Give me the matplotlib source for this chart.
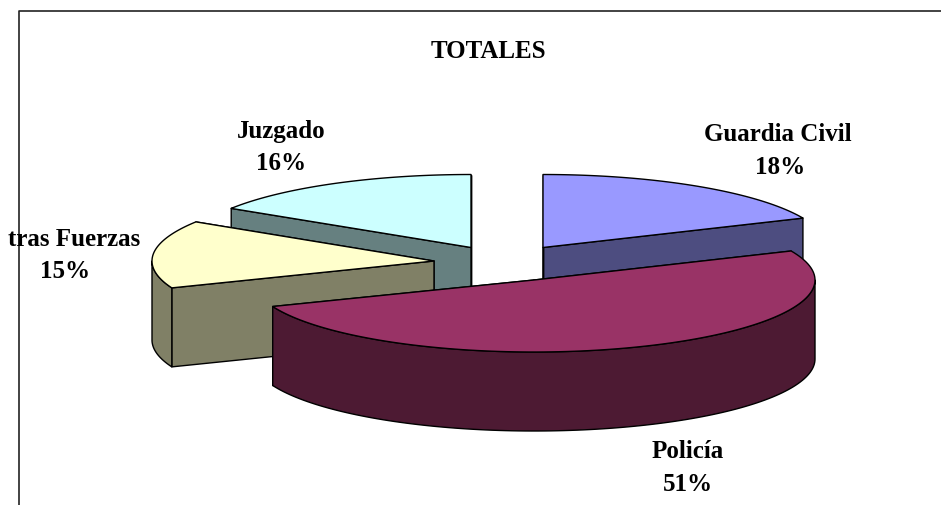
"""Tarta 3D con sectores separados, dibujada a mano con poligonos."""

import matplotlib

matplotlib.use("Agg")
import matplotlib.pyplot as plt  # noqa: E402
import numpy as np  # noqa: E402
from matplotlib.patches import Polygon  # noqa: E402

categories = ["Guardia Civil", "Policía", "Otras Fuerzas", "Juzgado"]
values = [18.4, 50.6, 15, 16]
pct_labels = ["18%", "51%", "15%", "16%"]
title = "TOTALES"

top_colors = ["#9999FF", "#993366", "#FFFFCC", "#CCFFFF"]
side_colors = ["#4D4D80", "#4D1A33", "#808066", "#668080"]

# vertice de cada sector en pixeles (sectores separados)
apex = [(543, 248.5), (534, 281), (434, 262), (471, 248.5)]
radius_x = [284, 281, 282, 284]
radius_y = [73, 72, 73, 73]
DEPTH = 79
DRAW_ORDER = [3, 0, 2, 1]

plt.rcParams["font.family"] = ["Liberation Serif", "DejaVu Serif"]


def ring(i, t0, t1, dy=0):
    # arco eliptico, angulo desde arriba en sentido horario
    cx, cy = apex[i]
    t = np.radians(np.linspace(t0, t1, 120))
    return np.column_stack([cx + radius_x[i] * np.sin(t),
                            cy - radius_y[i] * np.cos(t) + dy])


def draw_wedge(ax, i, t0, t1):
    cx, cy = apex[i]
    kw = dict(edgecolor="black", lw=1.0, joinstyle="round")
    # caras de corte
    for t in (t1, t0):
        p = ring(i, t, t)[0]
        face = [(cx, cy), p, (p[0], p[1] + DEPTH), (cx, cy + DEPTH)]
        ax.add_patch(Polygon(face, facecolor=side_colors[i], **kw))
    # pared exterior, solo la parte frontal
    a, b = max(t0, 90), min(t1, 270)
    if b > a:
        upper = ring(i, a, b)
        lower = ring(i, a, b, DEPTH)[::-1]
        ax.add_patch(Polygon(np.vstack([upper, lower]),
                             facecolor=side_colors[i], **kw))
    top = np.vstack([[(cx, cy)], ring(i, t0, t1)])
    ax.add_patch(Polygon(top, facecolor=top_colors[i], **kw))


fig = plt.figure(figsize=(9.41, 5.06), dpi=100)
ax = fig.add_axes([0, 0, 1, 1])
ax.set_xlim(0, 941)
ax.set_ylim(506, 0)
ax.axis("off")

# marco del grafico: solo izquierda y arriba llegan a verse
ax.plot([19, 19, 941], [506, 12, 12], color="#222222", lw=1.2)

edges = np.concatenate([[0], np.cumsum(values)]) / np.sum(values) * 360
for i in DRAW_ORDER:
    draw_wedge(ax, i, edges[i], edges[i + 1])

txt = dict(ha="center", va="center", fontsize=18, fontweight="bold",
           color="black")
ax.text(488, 51, title, **txt)
names = ["Guardia Civil", "Policía", "tras Fuerzas", "Juzgado"]  # recortado en el original
name_pos = [(778, 134), (688, 452), (74, 239), (281, 131)]
pct_pos = [(780, 167), (688, 485), (65, 272), (281, 163)]
for name, pct, p, q in zip(names, pct_labels, name_pos, pct_pos):
    ax.text(p[0], p[1], name, **txt)
    ax.text(q[0], q[1], pct, **txt)

fig.savefig("out.png", dpi=100)
